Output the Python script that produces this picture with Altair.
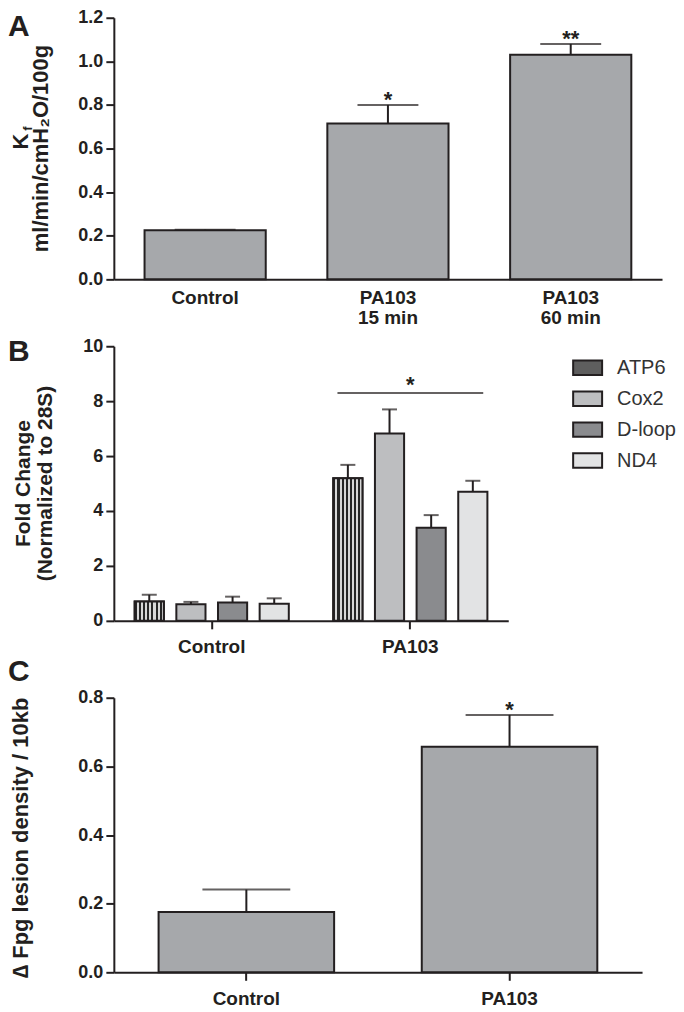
import altair as alt
import pandas as pd

# ---------------- data ----------------
# Panel A
a_groups = ["Control", "PA103\n15 min", "PA103\n60 min"]
a_means = [0.225, 0.715, 1.03]
a_upper = [0.228, 0.80, 1.08]
a_stars = ["", "*", "**"]
a_ticks = [0.0, 0.2, 0.4, 0.6, 0.8, 1.0, 1.2]

# Panel B
b_groups = ["Control", "PA103"]
b_genes = ["ATP6", "Cox2", "D-loop", "ND4"]
b_control_means = [0.70, 0.60, 0.67, 0.62]
b_control_upper = [0.95, 0.69, 0.88, 0.82]
b_pa103_means = [5.19, 6.82, 3.39, 4.70]
b_pa103_upper = [5.68, 7.70, 3.85, 5.10]
b_gene_colors = ["#5e5e5e", "#bdbec0", "#8a8b8e", "#e2e3e4"]
b_sig_group = ["PA103"]
b_sig_level = [8.3]
b_sig_star = ["*"]
b_ticks = [0, 2, 4, 6, 8, 10]

# Panel C
c_groups = ["Control", "PA103"]
c_means = [0.176, 0.657]
c_upper = [0.241, 0.75]
c_stars = ["", "*"]
c_ticks = [0.0, 0.2, 0.4, 0.6, 0.8]

INK = "#231f20"
FONT = "Liberation Sans"
BAR_GRAY = "#a6a8ab"

# checker-like texture for ATP6 (fine stripes)
_stops = []
_n = 14
for i in range(_n):
    c = "#262626" if i % 2 == 0 else "#d8d8d8"
    _stops.append(alt.GradientStop(offset=i / _n, color=c))
    _stops.append(alt.GradientStop(offset=(i + 1) / _n, color=c))
ATP6_FILL = alt.LinearGradient(gradient="linear", stops=_stops, x1=0, x2=1, y1=0, y2=0)


def label_layer(text, x, y, size=30, opacity=1):
    return alt.Chart(pd.DataFrame({"t": [text]})).mark_text(
        font=FONT, fontWeight="bold", fontSize=size, color=INK, align="left",
        baseline="alphabetic", opacity=opacity
    ).encode(text="t:N", x=alt.value(x), y=alt.value(y))


def vtitle(text, x, y, size=21, weight="bold"):
    return alt.Chart(pd.DataFrame({"t": [text]})).mark_text(
        font=FONT, fontWeight=weight, fontSize=size, color=INK, align="center",
        baseline="alphabetic", angle=270
    ).encode(text="t:N", x=alt.value(x), y=alt.value(y))


# ---------------- Panel A ----------------
WA, HA = 549, 262
dfa = pd.DataFrame({"group": a_groups, "mean": a_means, "upper": a_upper, "star": a_stars})
xa = alt.X("group:N", sort=a_groups, title=None,
           scale=alt.Scale(paddingInner=0.337, paddingOuter=0.168),
           axis=alt.Axis(labelAngle=0, ticks=False, labelPadding=9, labelFontSize=19,
                         labelLineHeight=20, labelExpr="split(datum.value, '\\n')"))
ya = alt.Y("mean:Q", title=None, scale=alt.Scale(domain=[0, 1.2], nice=False),
           axis=alt.Axis(values=a_ticks, format=".1f"))
baseA = alt.Chart(dfa)
a_bars = baseA.mark_bar(fill=BAR_GRAY, stroke=INK, strokeWidth=2).encode(x=xa, y=ya)
a_rule = baseA.mark_rule(color=INK, strokeWidth=2).encode(
    x=alt.X("group:N", sort=a_groups), y="mean:Q", y2="upper:Q")
a_cap = baseA.mark_tick(color=INK, thickness=2, size=61).encode(
    x=alt.X("group:N", sort=a_groups), y="upper:Q")
a_star = baseA.mark_text(font=FONT, fontWeight="bold", fontSize=22, color=INK,
                         baseline="middle", dy=-5).encode(
    x=alt.X("group:N", sort=a_groups), y="upper:Q", text="star:N")
chartA = alt.layer(
    a_bars, a_rule, a_cap, a_star,
    label_layer("A", -106, 18),
    vtitle("K", -86, 124, size=22),
    vtitle("f", -82, 111, size=13),
    vtitle("ml/min/cmH\u2082O/100g", -66, 131, size=22),
).properties(width=WA, height=HA)

# ---------------- Panel B ----------------
WB, HB = 395, 275
rows = []
for g, means, ups in [("Control", b_control_means, b_control_upper),
                      ("PA103", b_pa103_means, b_pa103_upper)]:
    for gene, m, u in zip(b_genes, means, ups):
        rows.append({"group": g, "gene": gene, "mean": m, "upper": u})
dfb = pd.DataFrame(rows)
xb = alt.X("group:N", sort=b_groups, title=None,
           scale=alt.Scale(paddingInner=0.224, paddingOuter=0.105),
           axis=alt.Axis(labelAngle=0, labelFontSize=19, labelPadding=9))
xob = alt.XOffset("gene:N", sort=b_genes, scale=alt.Scale(paddingInner=0.30, paddingOuter=0))
yb = alt.Y("mean:Q", title=None, scale=alt.Scale(domain=[0, 10], nice=False),
           axis=alt.Axis(values=b_ticks, format="d"))
legend_b = alt.Legend(
    title=None, orient="none", legendX=459, legendY=6, padding=0,
    symbolType="M-1,-0.5H1V0.5H-1Z", symbolSize=841, symbolStrokeColor=INK,
    symbolStrokeWidth=2, symbolOpacity=1, labelFont=FONT, labelFontSize=20,
    labelFontWeight="normal", labelColor="#333333", labelOffset=14, rowPadding=4,
)
colb = alt.Color("gene:N", sort=b_genes,
                 scale=alt.Scale(domain=b_genes, range=b_gene_colors), legend=legend_b)
baseB = alt.Chart(dfb)
b_bars = baseB.mark_bar(stroke=INK, strokeWidth=2, opacity=1).encode(x=xb, xOffset=xob, y=yb, color=colb)
b_atp = baseB.transform_filter(alt.datum.gene == "ATP6").mark_bar(
    fill=ATP6_FILL, stroke=INK, strokeWidth=2).encode(
    x=alt.X("group:N", sort=b_groups), xOffset=alt.XOffset("gene:N", sort=b_genes), y="mean:Q")
b_rule = baseB.mark_rule(color=INK, strokeWidth=2).encode(
    x=alt.X("group:N", sort=b_groups), xOffset=alt.XOffset("gene:N", sort=b_genes),
    y="mean:Q", y2="upper:Q")
b_cap = baseB.mark_tick(color=INK, thickness=2, size=15).encode(
    x=alt.X("group:N", sort=b_groups), xOffset=alt.XOffset("gene:N", sort=b_genes), y="upper:Q")
dfsig = pd.DataFrame({"group": b_sig_group, "level": b_sig_level, "star": b_sig_star})
b_sig = alt.Chart(dfsig).mark_tick(color=INK, thickness=2, size=146).encode(
    x=alt.X("group:N", sort=b_groups), y="level:Q")
b_sigstar = alt.Chart(dfsig).mark_text(font=FONT, fontWeight="bold", fontSize=22, color=INK,
                                       baseline="middle", dy=-8).encode(
    x=alt.X("group:N", sort=b_groups), y="level:Q", text="star:N")
chartB = alt.layer(
    b_bars, b_atp, b_rule, b_cap, b_sig, b_sigstar,
    label_layer("B", -106, 15),
    label_layer("B", -106, 5, opacity=0),
    vtitle("Fold Change", -84, HB / 2, size=21),
    vtitle("(Normalized to 28S)", -62, HB / 2, size=21),
).properties(width=WB, height=HB)

# ---------------- Panel C ----------------
WC, HC = 529, 275
dfc = pd.DataFrame({"group": c_groups, "mean": c_means, "upper": c_upper, "star": c_stars})
xc = alt.X("group:N", sort=c_groups, title=None,
           scale=alt.Scale(paddingInner=0.333, paddingOuter=0.17),
           axis=alt.Axis(labelAngle=0, labelFontSize=19, labelPadding=9))
yc = alt.Y("mean:Q", title=None, scale=alt.Scale(domain=[0, 0.8], nice=False),
           axis=alt.Axis(values=c_ticks, format=".1f"))
baseC = alt.Chart(dfc)
c_bars = baseC.mark_bar(fill=BAR_GRAY, stroke=INK, strokeWidth=2).encode(x=xc, y=yc)
c_rule = baseC.mark_rule(color=INK, strokeWidth=2).encode(
    x=alt.X("group:N", sort=c_groups), y="mean:Q", y2="upper:Q")
c_cap = baseC.mark_tick(color=INK, thickness=2, size=88).encode(
    x=alt.X("group:N", sort=c_groups), y="upper:Q")
c_star = baseC.mark_text(font=FONT, fontWeight="bold", fontSize=22, color=INK,
                         baseline="middle", dy=-5).encode(
    x=alt.X("group:N", sort=c_groups), y="upper:Q", text="star:N")
chartC = alt.layer(
    c_bars, c_rule, c_cap, c_star,
    label_layer("C", -106, -17),
    vtitle("\u2206 Fpg lesion density / 10kb", -86, HC / 2 + 3, size=22),
).properties(width=WC, height=HC)

chart = alt.vconcat(chartA, chartB, chartC, spacing=0).resolve_scale(
    color="independent"
).configure_view(stroke=None).configure_axis(
    domainColor=INK, domainWidth=2, tickColor=INK, tickWidth=2, tickSize=8,
    labelFont=FONT, labelFontWeight="bold", labelColor=INK, labelFontSize=18,
    labelPadding=3, grid=False,
).properties(padding=0)

chart.save("out.html", embed_options={"renderer": "svg", "actions": False})
